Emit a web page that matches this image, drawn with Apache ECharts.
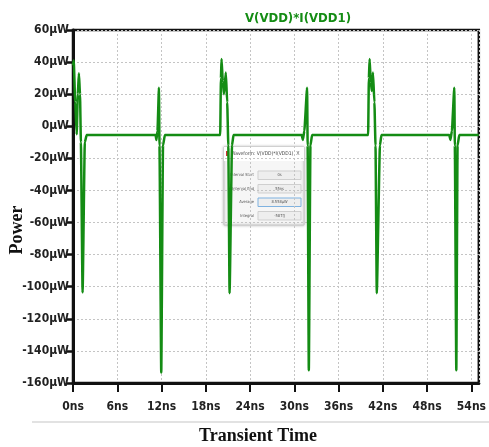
<!DOCTYPE html>
<html>
<head>
<meta charset="utf-8">
<script src="https://cdn.jsdelivr.net/npm/echarts@6/dist/echarts.min.js"></script>
<style>
  html, body { margin: 0; padding: 0; background: #fff; }
  #chart { width: 489px; height: 447px; }
</style>
</head>
<body>
<div id="chart"></div>
<script>
// trace V(VDD)*I(VDD1), time in ns, power in µW
const timeNs = [
  0.00, 0.10, 0.30, 0.50, 0.65, 0.80, 0.95, 1.07, 1.30, 1.60, 1.85,
  10.90, 11.20, 11.30, 11.45, 11.65, 11.72, 11.96, 12.20, 12.45,
  19.95, 20.05, 20.13, 20.30, 20.45, 20.71, 20.90, 21.05, 21.22, 21.55, 21.75,
  31.00, 31.15, 31.35, 31.73, 31.80, 31.96, 32.18, 32.40,
  40.00, 40.10, 40.20, 40.35, 40.50, 40.65, 40.85, 41.00, 41.17, 41.60, 41.80,
  51.00, 51.15, 51.35, 51.68, 51.75, 51.95, 52.12, 52.35,
  55.00,
];
const powerUW = [
  38, 41, 15, -5, 20, 33, 20, -10, -103.5, -10, -5.5,
  -5.5, -5.5, -8.5, -3, 24, -12, -153.5, -12, -5.5,
  -5.5, 30, 42, 28, 20, 33.5, 15, -12, -104, -12, -5.5,
  -5.5, -8.5, -3, 24, -12, -152, -12, -5.5,
  -5.5, 30, 42, 28, 22, 33.5, 15, -12, -104, -12, -5.5,
  -5.5, -8.5, -3, 24, -12, -152, -12, -5.5,
  -5.5,
];

const xTicks = [0, 6, 12, 18, 24, 30, 36, 42, 48, 54];
const yTicks = [60, 40, 20, 0, -20, -40, -60, -80, -100, -120, -140, -160];

// measurement dialog text
const dialogTitle = "Waveform: V(VDD)*I(VDD1)";
const dialogLabels = ["Interval Start", "Interval End", "Average", "Integral"];
const dialogValues = ["0s", "55ns", "8.558µW", "-587fJ"];

const narrow = "'DejaVu Sans Condensed', 'Liberation Sans Narrow', 'Arial Narrow', sans-serif";
const serif = "'Liberation Serif', 'Times New Roman', serif";
const green = "#148c14";

const points = timeNs.map((t, i) => [t, powerUW[i]]);

const dialogItems = [
  {
    type: "rect",
    shape: { x: 224, y: 147, width: 80, height: 78 },
    style: { fill: "#f6f6f6", stroke: "#c8c8c8", lineWidth: 1, shadowBlur: 3, shadowColor: "rgba(0,0,0,0.25)" },
  },
  {
    type: "rect",
    shape: { x: 224, y: 147, width: 80, height: 14 },
    style: { fill: "#ffffff" },
  },
  {
    type: "rect",
    shape: { x: 226, y: 151, width: 3, height: 5 },
    style: { fill: "#cc3333" },
  },
  {
    type: "text",
    style: { x: 231, y: 154, text: dialogTitle, fontSize: 5, fill: "#444", verticalAlign: "middle", fontFamily: narrow },
  },
  {
    type: "text",
    style: { x: 298, y: 154, text: "X", fontSize: 5, fill: "#555", align: "center", verticalAlign: "middle" },
  },
];
dialogLabels.forEach((label, i) => {
  const y = 171 + i * 13.5;
  dialogItems.push({
    type: "text",
    style: { x: 254, y: y + 4, text: label, fontSize: 4, fill: "#555", align: "right", verticalAlign: "middle", fontFamily: narrow },
  });
  dialogItems.push({
    type: "rect",
    shape: { x: 258, y: y, width: 43, height: 8.5 },
    style: { fill: "#eeeeee", stroke: i === 2 ? "#7fb2e0" : "#cfcfcf", lineWidth: 1 },
  });
  dialogItems.push({
    type: "text",
    style: { x: 279.5, y: y + 4.3, text: dialogValues[i], fontSize: 4, fill: "#555", align: "center", verticalAlign: "middle", fontFamily: narrow },
  });
});

const chart = echarts.init(document.getElementById("chart"), null, { renderer: "canvas" });

chart.setOption({
  animation: false,
  backgroundColor: "#ffffff",
  title: {
    text: "V(VDD)*I(VDD1)",
    left: 240,
    top: 7,
    textStyle: { color: green, fontSize: 13, fontWeight: "bold", fontFamily: narrow },
  },
  grid: {
    left: 73,
    right: 5,
    top: 30,
    bottom: 64,
    show: true,
    borderColor: "#111",
    borderWidth: 2.5,
    backgroundColor: "transparent",
  },
  xAxis: {
    type: "value",
    min: 0,
    max: 55,
    interval: 6,
    axisLine: { show: true, onZero: false, lineStyle: { color: "#111", width: 3 } },
    axisTick: { show: true, inside: false, length: 9, lineStyle: { color: "#111", width: 2 } },
    axisLabel: {
      margin: 18,
      color: "#222",
      fontSize: 12,
      fontWeight: "bold",
      fontFamily: narrow,
      showMaxLabel: false,
      formatter: (v) => (xTicks.includes(v) ? v + "ns" : ""),
    },
    splitLine: { show: true, lineStyle: { color: "#c4c4c4", width: 1, type: [2, 2] } },
  },
  yAxis: {
    type: "value",
    min: -160,
    max: 60,
    interval: 20,
    axisLine: { show: true, onZero: false, lineStyle: { color: "#111", width: 3 } },
    axisTick: { show: true, inside: false, length: 6, lineStyle: { color: "#111", width: 2.5 } },
    axisLabel: {
      margin: 4,
      color: "#222",
      fontSize: 12,
      fontWeight: "bold",
      fontFamily: narrow,
      formatter: (v) => (yTicks.includes(v) ? v + "µW" : ""),
    },
    splitLine: { show: true, lineStyle: { color: "#c4c4c4", width: 1, type: [2, 2] } },
  },
  graphic: [
    {
      type: "line",
      shape: { x1: 32, y1: 422, x2: 489, y2: 422 },
      style: { stroke: "#e2e2e2", lineWidth: 2 },
      z: 0,
    },
    {
      type: "text",
      style: {
        x: 258, y: 436, text: "Transient Time", align: "center", verticalAlign: "middle",
        fontSize: 18, fontWeight: "bold", fontFamily: serif, fill: "#111",
      },
    },
    {
      type: "text",
      x: 17,
      y: 230,
      rotation: Math.PI / 2,
      style: {
        x: 0, y: 0, text: "Power", align: "center", verticalAlign: "middle",
        fontSize: 18, fontWeight: "bold", fontFamily: serif, fill: "#111",
      },
    },
    {
      type: "group",
      z: 100,
      children: dialogItems,
    },
  ],
  series: [
    {
      name: "V(VDD)*I(VDD1)",
      type: "line",
      data: points,
      showSymbol: false,
      symbol: "none",
      smooth: 0.15,
      smoothMonotone: "x",
      lineStyle: { color: green, width: 2.5 },
      z: 3,
    },
  ],
});
</script>
</body>
</html>
